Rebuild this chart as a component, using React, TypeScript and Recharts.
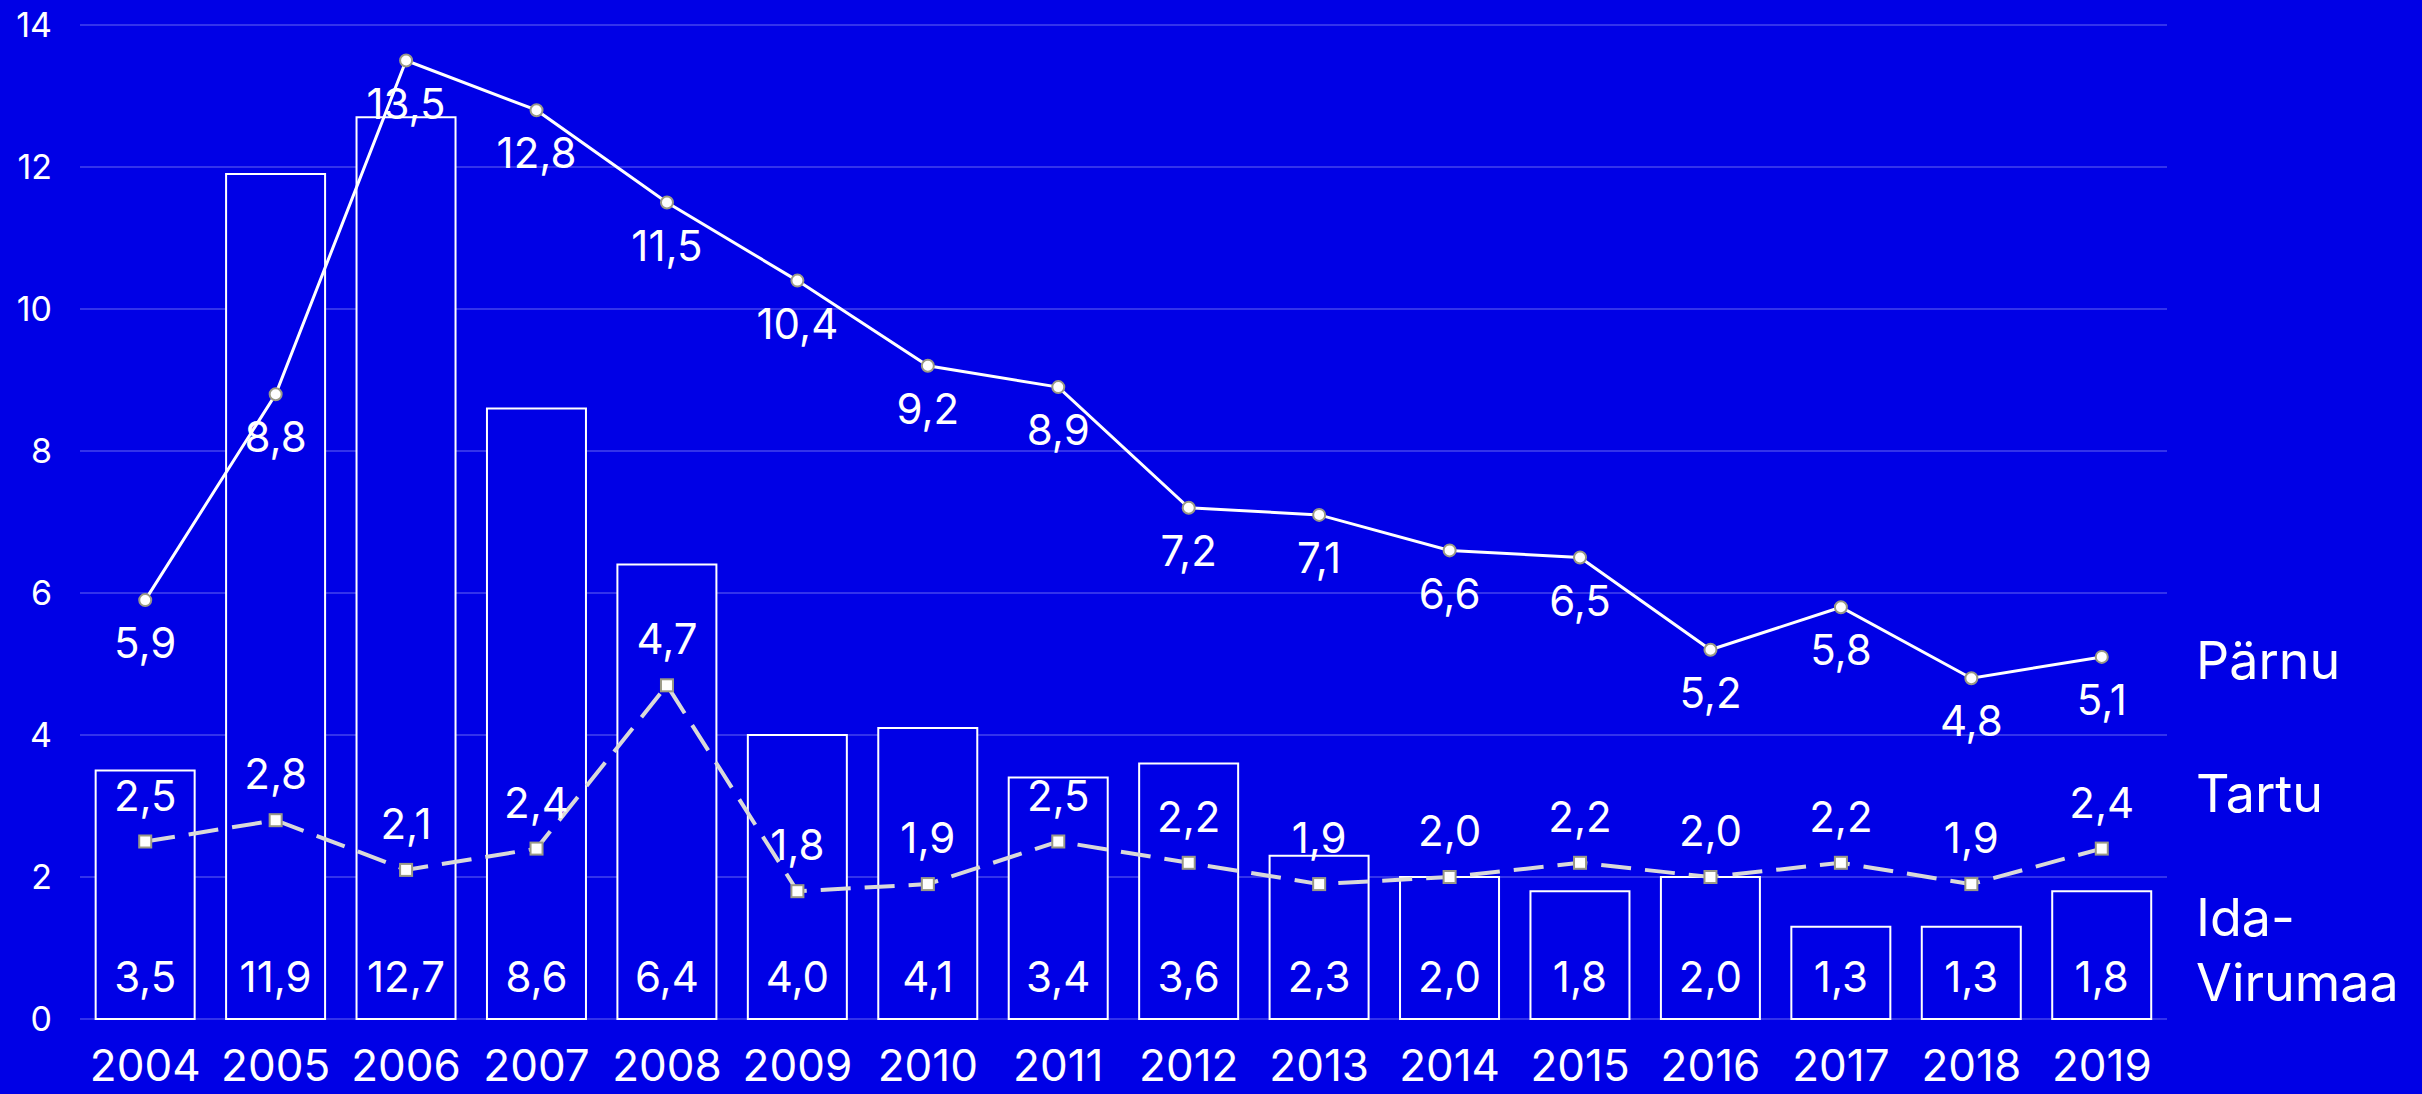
import {
  ComposedChart,
  Bar,
  Line,
  XAxis,
  YAxis,
  CartesianGrid,
  LabelList,
} from 'recharts';

const years = ['2004', '2005', '2006', '2007', '2008', '2009', '2010', '2011', '2012', '2013', '2014', '2015', '2016', '2017', '2018', '2019'];
const idaVirumaa = [3.5, 11.9, 12.7, 8.6, 6.4, 4.0, 4.1, 3.4, 3.6, 2.3, 2.0, 1.8, 2.0, 1.3, 1.3, 1.8];
const parnu = [5.9, 8.8, 13.5, 12.8, 11.5, 10.4, 9.2, 8.9, 7.2, 7.1, 6.6, 6.5, 5.2, 5.8, 4.8, 5.1];
const tartu = [2.5, 2.8, 2.1, 2.4, 4.7, 1.8, 1.9, 2.5, 2.2, 1.9, 2.0, 2.2, 2.0, 2.2, 1.9, 2.4];
const yTicks = [0, 2, 4, 6, 8, 10, 12, 14];

const BG = '#0000e6';
const FONT = 'Inter, "DejaVu Sans", sans-serif';

const fmt = (v: number) => v.toFixed(1).replace('.', ',');

const chartData = years.map((year, i) => ({
  year,
  ida: idaVirumaa[i],
  parnu: parnu[i],
  tartu: tartu[i],
}));

// labels for the bars sit near the bottom of each bar
const BarValue = (props: any) => {
  const { x, y, width, height, value } = props;
  return (
    <text x={x + width / 2} y={y + height - 27} textAnchor='middle' fill='#fff' fontSize={42} fontFamily={FONT}>
      {fmt(value)}
    </text>
  );
};

const BelowValue = (props: any) => {
  const { x, y, value } = props;
  return (
    <text x={x} y={y + 43} dy='0.36em' textAnchor='middle' fill='#fff' fontSize={42} fontFamily={FONT}>
      {fmt(value)}
    </text>
  );
};

const AboveValue = (props: any) => {
  const { x, y, value } = props;
  return (
    <text x={x} y={y - 46} dy='0.36em' textAnchor='middle' fill='#fff' fontSize={42} fontFamily={FONT}>
      {fmt(value)}
    </text>
  );
};

const SquareDot = (props: any) => {
  const { cx, cy, index } = props;
  return <rect key={`sq-${index}`} x={cx - 6} y={cy - 6} width={12} height={12} fill='#fff' stroke='#9a9a86' strokeWidth={2} />;
};

const legendStyle = {
  position: 'absolute' as const,
  left: 2196,
  color: '#fff',
  fontFamily: FONT,
  fontSize: 52,
  lineHeight: '65px',
};

export default function App() {
  return (
    <div style={{ position: 'absolute', left: 0, top: 0, width: 2422, height: 1094, background: BG, overflow: 'hidden' }}>
      <ComposedChart
        width={2422}
        height={1094}
        data={chartData}
        margin={{ top: 25, right: 255, bottom: 0, left: 0 }}
        barCategoryGap='12%'
      >
        <CartesianGrid vertical={false} stroke='rgba(255,255,255,0.2)' strokeWidth={2} />
        <XAxis
          dataKey='year'
          axisLine={false}
          tickLine={false}
          height={75}
          tickMargin={25}
          tick={{ fill: '#fff', fontSize: 44, fontFamily: FONT }}
        />
        <YAxis
          domain={[0, 14]}
          ticks={yTicks}
          width={80}
          axisLine={false}
          tickLine={false}
          tickMargin={22}
          tick={{ fill: '#fff', fontSize: 34, fontFamily: FONT }}
        />
        <Bar dataKey='ida' fill={BG} stroke='#fff' strokeWidth={2} isAnimationActive={false}>
          <LabelList dataKey='ida' content={BarValue} />
        </Bar>
        <Line
          dataKey='tartu'
          stroke='#d9d9d9'
          strokeWidth={4}
          strokeDasharray='30 14'
          dot={SquareDot}
          activeDot={false}
          isAnimationActive={false}
        >
          <LabelList dataKey='tartu' content={AboveValue} />
        </Line>
        <Line
          dataKey='parnu'
          stroke='#fff'
          strokeWidth={3}
          dot={{ r: 6, fill: '#fff', stroke: '#9a9a86', strokeWidth: 2 }}
          activeDot={false}
          isAnimationActive={false}
        >
          <LabelList dataKey='parnu' content={BelowValue} />
        </Line>
      </ComposedChart>
      <div style={{ ...legendStyle, top: 628 }}>Pärnu</div>
      <div style={{ ...legendStyle, top: 761 }}>Tartu</div>
      <div style={{ ...legendStyle, top: 885 }}>
        Ida-
        <br />
        Virumaa
      </div>
    </div>
  );
}
